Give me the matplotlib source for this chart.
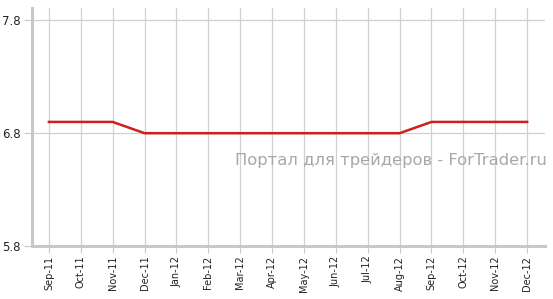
import matplotlib
matplotlib.use('Agg')
import matplotlib.pyplot as plt

months = ["Sep-11", "Oct-11", "Nov-11", "Dec-11", "Jan-12", "Feb-12", "Mar-12", "Apr-12",
          "May-12", "Jun-12", "Jul-12", "Aug-12", "Sep-12", "Oct-12", "Nov-12", "Dec-12"]
values = [6.9, 6.9, 6.9, 6.8, 6.8, 6.8, 6.8, 6.8, 6.8, 6.8, 6.8, 6.8, 6.9, 6.9, 6.9, 6.9]
yticks = [5.8, 6.8, 7.8]

fig = plt.figure(figsize=(5.53, 2.99), dpi=100)
ax = fig.add_axes([32/553, 1-246/299, 513/553, 238/299])

x = range(len(months))
ax.plot(x, values, color='#cc1f1f', lw=1.8, solid_joinstyle='miter', zorder=3)

ax.set_xlim(-0.53, len(months) - 1 + 0.56)
ax.set_ylim(5.8, 7.91)
ax.set_xticks(list(x))
ax.set_xticklabels(months, rotation=90, fontsize=7, color='#222222')
ax.set_yticks(yticks)
ax.set_yticklabels([str(v) for v in yticks], fontsize=8.5, color='#222222')

ax.grid(True, color='#d0d0d0', lw=0.9)
ax.set_axisbelow(True)
for s in ['top', 'right']:
    ax.spines[s].set_visible(False)
for s in ['left', 'bottom']:
    ax.spines[s].set_color('#c8c8c8')
    ax.spines[s].set_linewidth(2.2)
ax.tick_params(axis='x', length=5, color='#c8c8c8', pad=2)
ax.tick_params(axis='y', length=6, color='#c8c8c8', pad=2)

# watermark
ax.text(1.004, 0.36, "Портал для трейдеров - ForTrader.ru", transform=ax.transAxes,
        ha='right', va='center', fontsize=11.8, color='#a8a8a8')

fig.savefig('out.png', dpi=100)
